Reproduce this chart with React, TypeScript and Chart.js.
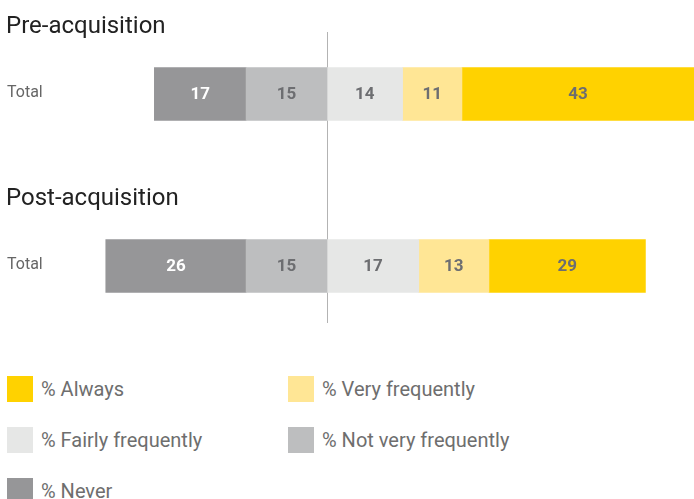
import React, { useEffect, useRef } from "react";
import { Chart, registerables } from "chart.js";

Chart.register(...registerables);

// ---- data ----
const groupTitles = ["Pre-acquisition", "Post-acquisition"];
const rowLabels = ["Total", "Total"];
const seriesNames = [
  "% Always",
  "% Very frequently",
  "% Fairly frequently",
  "% Not very frequently",
  "% Never",
];
const always = [43, 29];
const veryFrequently = [11, 13];
const fairlyFrequently = [14, 17];
const notVeryFrequently = [15, 15];
const never = [17, 26];

const colors = {
  always: "#FFD200",
  very: "#FFE695",
  fairly: "#E6E7E6",
  notVery: "#BDBEBF",
  never: "#969698",
};

const FONT = "Roboto, 'Liberation Sans', Arial, sans-serif";

const legendItems = [
  { name: seriesNames[0], color: colors.always },
  { name: seriesNames[1], color: colors.very },
  { name: seriesNames[2], color: colors.fairly },
  { name: seriesNames[3], color: colors.notVery },
  { name: seriesNames[4], color: colors.never },
];

export default function App() {
  const ref = useRef<HTMLCanvasElement | null>(null);

  useEffect(() => {
    if (!ref.current) return;
    const datasets = [
      { label: seriesNames[3], data: notVeryFrequently.map((v) => -v), raw: notVeryFrequently, backgroundColor: colors.notVery, textColor: "#6D6E71" },
      { label: seriesNames[4], data: never.map((v) => -v), raw: never, backgroundColor: colors.never, textColor: "#FFFFFF" },
      { label: seriesNames[2], data: fairlyFrequently, raw: fairlyFrequently, backgroundColor: colors.fairly, textColor: "#6D6E71" },
      { label: seriesNames[1], data: veryFrequently, raw: veryFrequently, backgroundColor: colors.very, textColor: "#6D6E71" },
      { label: seriesNames[0], data: always, raw: always, backgroundColor: colors.always, textColor: "#6D6E71" },
    ];

    const decor = {
      id: "decor",
      beforeDatasetsDraw(chart: any) {
        const ctx = chart.ctx;
        const x0 = chart.scales.x.getPixelForValue(0);
        const yTop = chart.scales.y.getPixelForValue(0) - 62;
        const yBot = chart.scales.y.getPixelForValue(1) + 57;
        ctx.save();
        ctx.strokeStyle = "#B3B3B3";
        ctx.lineWidth = 1;
        ctx.beginPath();
        ctx.moveTo(Math.round(x0) + 0.5, yTop);
        ctx.lineTo(Math.round(x0) + 0.5, yBot);
        ctx.stroke();
        ctx.restore();
      },
      afterDatasetsDraw(chart: any) {
        const ctx = chart.ctx;
        ctx.save();
        groupTitles.forEach((t, i) => {
          const yc = chart.scales.y.getPixelForValue(i);
          ctx.fillStyle = "#222222";
          ctx.font = `24px ${FONT}`;
          ctx.textAlign = "left";
          ctx.textBaseline = "alphabetic";
          ctx.fillText(t, 6, yc - 61);
          ctx.fillStyle = "#666666";
          ctx.font = `16px ${FONT}`;
          ctx.textBaseline = "middle";
          ctx.fillText(rowLabels[i], 7, yc - 1);
        });
        chart.data.datasets.forEach((ds: any, di: number) => {
          const meta = chart.getDatasetMeta(di);
          meta.data.forEach((el: any, i: number) => {
            const cx = (el.x + el.base) / 2;
            ctx.fillStyle = ds.textColor;
            ctx.font = `bold 17px ${FONT}`;
            ctx.textAlign = "center";
            ctx.textBaseline = "middle";
            ctx.fillText(String(ds.raw[i]), cx, el.y + 1);
          });
        });
        ctx.restore();
      },
    };

    const chart = new Chart(ref.current, {
      type: "bar",
      data: { labels: rowLabels, datasets: datasets as any },
      options: {
        indexAxis: "y",
        animation: false,
        responsive: false,
        layout: { padding: { top: 8, bottom: 8, left: 0, right: 0 } },
        plugins: { legend: { display: false }, tooltip: { enabled: false } },
        datasets: { bar: { barThickness: 53 } },
        scales: {
          x: { stacked: true, min: -60.6, max: 68, display: false },
          y: { stacked: true, display: false },
        },
      } as any,
      plugins: [decor],
    });
    return () => chart.destroy();
  }, []);

  return (
    <div style={{ position: "absolute", left: 0, top: 0, width: 694, height: 499, overflow: "hidden", background: "#fff", fontFamily: FONT }}>
      <canvas ref={ref} width={694} height={360} style={{ position: "absolute", left: 0, top: 0 }} />
      {legendItems.map((it, i) => {
        const col = i % 2;
        const row = Math.floor(i / 2);
        return (
          <div
            key={it.name}
            style={{
              position: "absolute",
              left: col === 0 ? 7 : 288,
              top: 376 + row * 51,
              height: 26,
              display: "flex",
              alignItems: "center",
              whiteSpace: "nowrap",
            }}
          >
            <span style={{ display: "inline-block", width: 26, height: 26, background: it.color }} />
            <span style={{ marginLeft: 8, fontSize: 20, color: "#6E6E6E" }}>{it.name}</span>
          </div>
        );
      })}
    </div>
  );
}
